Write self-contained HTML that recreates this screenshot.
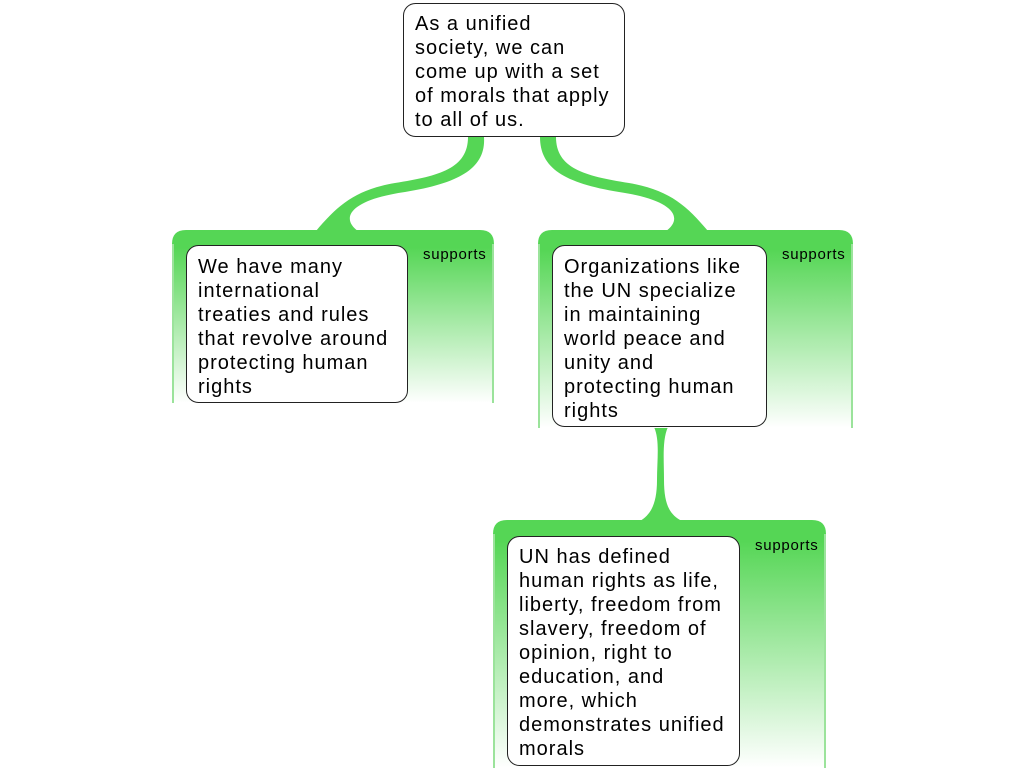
<!DOCTYPE html>
<html><head><meta charset="utf-8"><style>
body{margin:0;background:#fff;width:1024px;height:768px;overflow:hidden;font-family:"Liberation Sans",sans-serif}
svg{position:absolute;left:0;top:0}
.t{font-size:20px;fill:#000;letter-spacing:1px}
.s{font-size:15px;fill:#000;letter-spacing:0.75px}
</style></head><body>
<svg width="1024" height="768" viewBox="0 0 1024 768">
<defs>
<linearGradient id="g" x1="0" y1="0" x2="0" y2="1">
<stop offset="0" stop-color="#55d655"/>
<stop offset="0.1" stop-color="#55d655"/>
<stop offset="1" stop-color="#ffffff"/>
</linearGradient>
<linearGradient id="g2" x1="0" y1="0" x2="0" y2="1">
<stop offset="0" stop-color="#55d655"/>
<stop offset="0.08" stop-color="#55d655"/>
<stop offset="1" stop-color="#ffffff"/>
</linearGradient>
</defs>
<path d="M468,137 C468,168 440,176 395,183 C355,190 338,205 316,231 L358,231 C340,218 350,200 405,192 C460,183 486,168 484,137 Z" fill="#55d655"/>
<path d="M556,137 C556,168 584,176 629,183 C669,190 686,205 708,231 L666,231 C684,218 674,200 619,192 C564,183 540,168 540,137 Z" fill="#55d655"/>
<path d="M654,427 C660,440 657,460 657,480 C657,505 650,515 640,521 L682,521 C670,515 664,505 664,480 C664,460 662,440 668,427 Z" fill="#55d655"/>
<path d="M172,403 L172,244 Q172,230 186,230 L480,230 Q494,230 494,244 L494,403 Z" fill="url(#g)"/>
<path d="M538,428 L538,244 Q538,230 552,230 L839,230 Q853,230 853,244 L853,428 Z" fill="url(#g)"/>
<path d="M493,768 L493,534 Q493,520 507,520 L812,520 Q826,520 826,534 L826,768 Z" fill="url(#g2)"/>
<g fill="#9be39b">
<rect x="172" y="244" width="2" height="159"/><rect x="492" y="244" width="2" height="159"/>
<rect x="538" y="244" width="2" height="184"/><rect x="851" y="244" width="2" height="184"/>
<rect x="493" y="534" width="2" height="234"/><rect x="824" y="534" width="2" height="234"/>
</g>
<rect x="403.5" y="3.5" width="221" height="133" rx="12" fill="#fff" stroke="#222" stroke-width="1"/>
<rect x="186.5" y="245.5" width="221" height="157" rx="12" fill="#fff" stroke="#222" stroke-width="1"/>
<rect x="552.5" y="245.5" width="214" height="181" rx="12" fill="#fff" stroke="#222" stroke-width="1"/>
<rect x="507.5" y="536.5" width="232" height="229" rx="12" fill="#fff" stroke="#222" stroke-width="1"/>
<g class="t">
<text x="415" y="30">As a unified</text>
<text x="415" y="54">society, we can</text>
<text x="415" y="78">come up with a set</text>
<text x="415" y="102">of morals that apply</text>
<text x="415" y="126">to all of us.</text>
<text x="198" y="273">We have many</text>
<text x="198" y="297">international</text>
<text x="198" y="321">treaties and rules</text>
<text x="198" y="345">that revolve around</text>
<text x="198" y="369">protecting human</text>
<text x="198" y="393">rights</text>
<text x="564" y="273">Organizations like</text>
<text x="564" y="297">the UN specialize</text>
<text x="564" y="321">in maintaining</text>
<text x="564" y="345">world peace and</text>
<text x="564" y="369">unity and</text>
<text x="564" y="393">protecting human</text>
<text x="564" y="417">rights</text>
<text x="519" y="563">UN has defined</text>
<text x="519" y="587">human rights as life,</text>
<text x="519" y="611">liberty, freedom from</text>
<text x="519" y="635">slavery, freedom of</text>
<text x="519" y="659">opinion, right to</text>
<text x="519" y="683">education, and</text>
<text x="519" y="707">more, which</text>
<text x="519" y="731">demonstrates unified</text>
<text x="519" y="755">morals</text>
</g>
<g class="s">
<text x="423" y="259">supports</text>
<text x="782" y="259">supports</text>
<text x="755" y="550">supports</text>
</g>
</svg>
</body></html>
